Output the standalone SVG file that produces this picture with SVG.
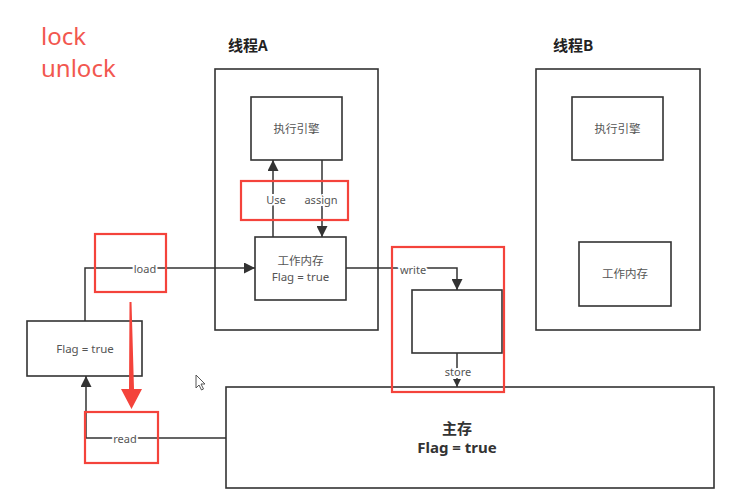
<svg xmlns="http://www.w3.org/2000/svg" width="752" height="493" viewBox="0 0 752 493">
<style>
.box{fill:#fff;stroke:#333;stroke-width:1.6}
.ln{fill:none;stroke:#333;stroke-width:1.5}
.red{fill:none;stroke:#f4433b;stroke-width:2.2}
.t{font-family:"Noto Sans","Noto Sans CJK SC",sans-serif;font-size:11.5px;fill:#555;text-anchor:middle}
.lbl{font-family:"Noto Sans","Noto Sans CJK SC",sans-serif;font-size:11px;fill:#555;text-anchor:middle;paint-order:stroke;stroke:#fff;stroke-width:4px}
.title{font-family:"Noto Sans CJK SC","Noto Sans",sans-serif;font-size:15px;font-weight:bold;fill:#222}
.big{font-family:"Noto Sans","Noto Sans CJK SC",sans-serif;font-size:24px;fill:#f2574f}
.bold{font-family:"Noto Sans","Noto Sans CJK SC",sans-serif;font-size:15px;font-weight:bold;fill:#333;text-anchor:middle}
</style>
<defs>
<marker id="ah" viewBox="0 0 10 10" refX="10" refY="5" markerWidth="8" markerHeight="8" markerUnits="userSpaceOnUse" orient="auto">
<path d="M0,0 L10,5 L0,10 Z" fill="#333"/>
</marker>
<marker id="ahb" viewBox="0 0 10 10" refX="10" refY="5" markerWidth="11" markerHeight="11" markerUnits="userSpaceOnUse" orient="auto">
<path d="M0,0 L10,5 L0,10 Z" fill="#333"/>
</marker>
</defs>
<rect width="752" height="493" fill="#fff"/>
<text class="big" x="41" y="45">lock</text>
<text class="big" x="41" y="77">unlock</text>
<text class="title" x="228" y="51">线程A</text>
<text class="title" x="553" y="51">线程B</text>

<g id="threadA"><rect class="box" x="215" y="69" width="163" height="261"/></g>
<g id="threadB"><rect class="box" x="536" y="69" width="164" height="261"/></g>
<g id="engineA"><rect class="box" x="251" y="97" width="91" height="63"/><text class="t" x="296.5" y="133">执行引擎</text></g>
<g id="workA"><rect class="box" x="255" y="237" width="91" height="63"/><text class="t" x="300.5" y="265">工作内存</text><text class="t" x="300.5" y="281">Flag = true</text></g>
<g id="engineB"><rect class="box" x="572" y="97" width="91" height="63"/><text class="t" x="617.5" y="133">执行引擎</text></g>
<g id="workB"><rect class="box" x="579" y="242" width="92" height="64"/><text class="t" x="625" y="278">工作内存</text></g>
<g id="flagLeft"><rect class="box" x="27" y="321" width="115" height="55"/><text class="t" x="85" y="353">Flag = true</text></g>
<g id="buffer"><rect class="box" x="412" y="290" width="90" height="63"/></g>
<g id="mainMem"><rect class="box" x="226" y="387" width="488" height="101"/><text class="bold" x="457" y="434">主存</text><text class="bold" x="457" y="453">Flag = true</text></g>

<g id="connectors">
<path class="ln" d="M273,237 V160" marker-end="url(#ahb)"/>
<path class="ln" d="M322,160 V237" marker-end="url(#ahb)"/>
<path class="ln" d="M85,321 V268 H255" marker-end="url(#ahb)"/>
<path class="ln" d="M226,438 H86 V376" marker-end="url(#ahb)"/>
<path class="ln" d="M346,268 H457 V290" marker-end="url(#ahb)"/>
<path class="ln" d="M457,353 V387" marker-end="url(#ah)"/>
<text class="lbl" x="276" y="204">Use</text>
<text class="lbl" x="321" y="204">assign</text>
<text class="lbl" x="145" y="273">load</text>
<text class="lbl" x="125" y="443">read</text>
<text class="lbl" x="413" y="274">write</text>
<text class="lbl" x="458" y="376">store</text>
</g>

<g id="highlights">
<rect class="red" x="241" y="181" width="107" height="39"/>
<rect class="red" x="95" y="234" width="71" height="58"/>
<rect class="red" x="85" y="412" width="73" height="51"/>
<rect class="red" x="392" y="247" width="112" height="145"/>
<polygon points="129.5,302 131.5,302 134,389 142,389 131.5,409 121,389 129,389" fill="#f4433b"/>
</g>
<path d="M196,375 L196,388 L199,385 L201.5,390 L203.5,389 L201,384 L205,384 Z" fill="#fff" stroke="#555" stroke-width="1"/>
</svg>
